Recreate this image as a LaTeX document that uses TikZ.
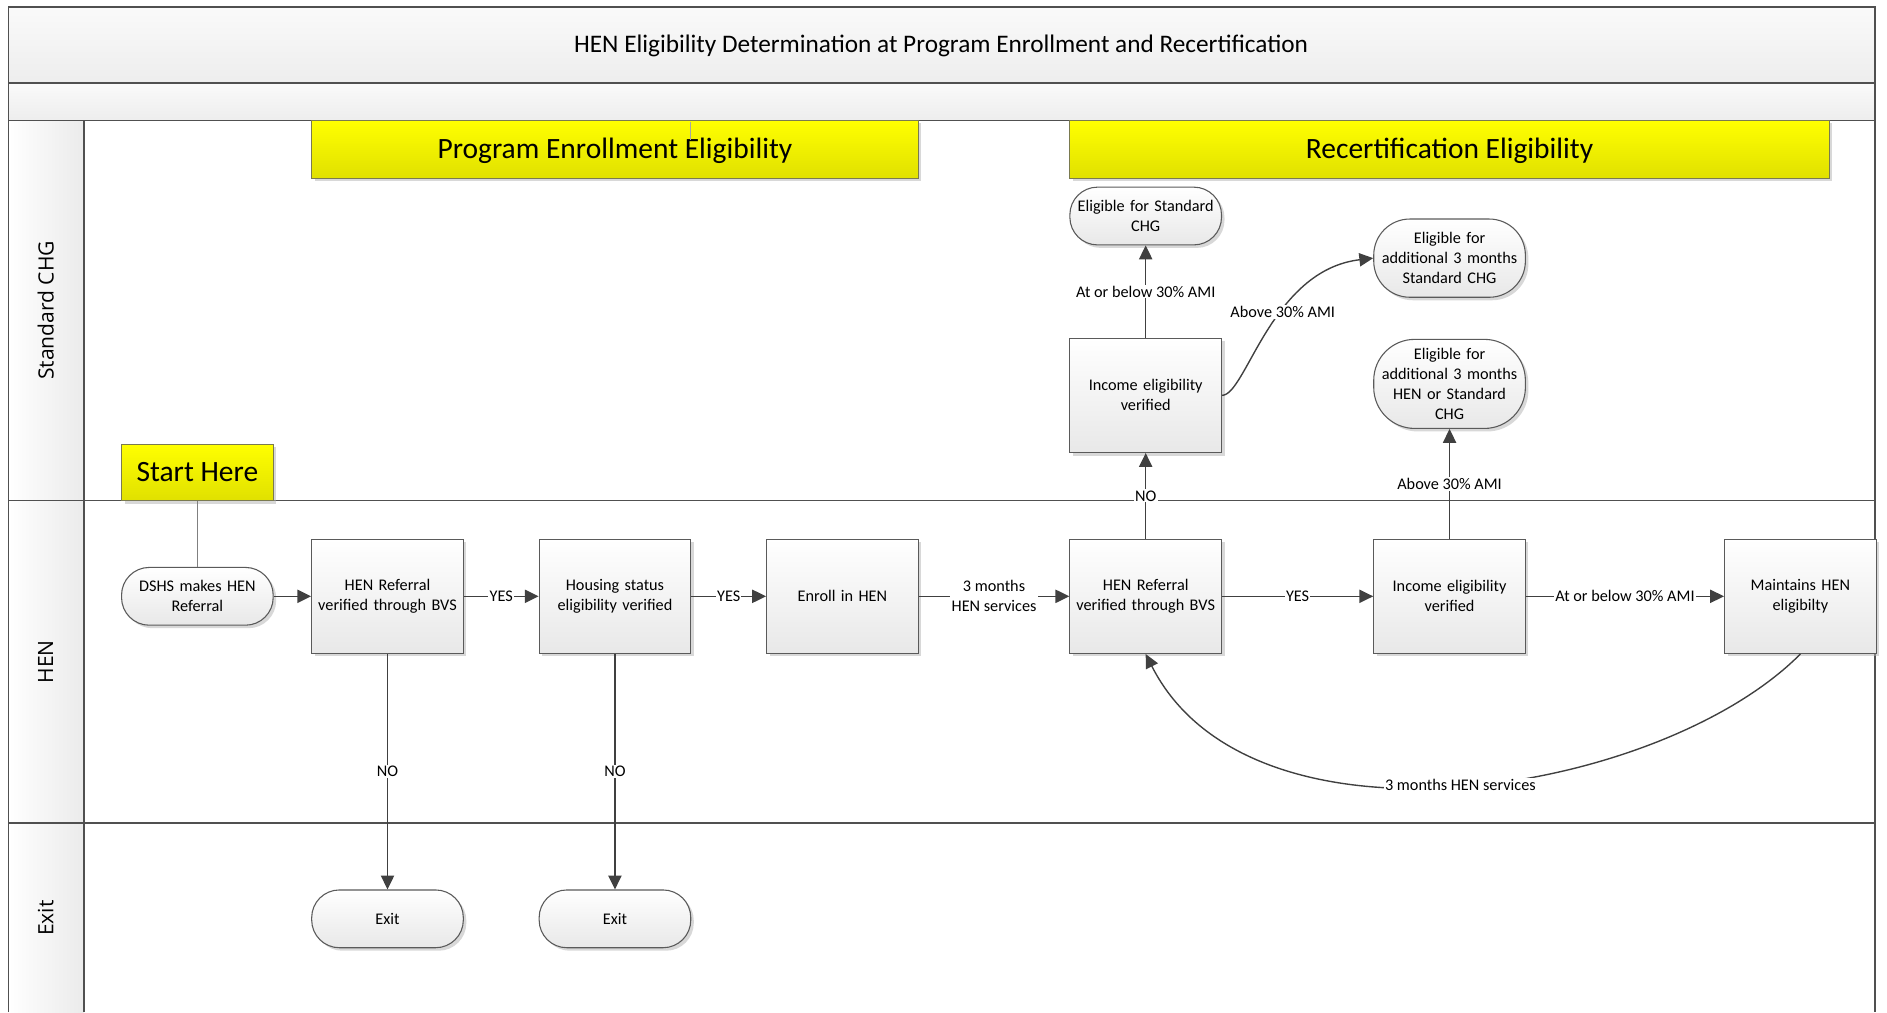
\documentclass[tikz,border=0pt]{standalone}
\usepackage{fontspec}
\setmainfont{Carlito}
\newfontfamily\lanefont{Open Sans}
\usetikzlibrary{arrows.meta,shadows}
\definecolor{lineC}{HTML}{404040}
\definecolor{frameC}{HTML}{505050}
\definecolor{boxC}{HTML}{5A5A5A}
\definecolor{banC}{HTML}{7A7A50}
\tikzset{
  nfont/.style={font=\fontsize{13.5}{16.7}\selectfont},
  shad/.style={drop shadow={shadow xshift=2.5pt,shadow yshift=-2.5pt,fill=black!30,opacity=0.5}},
  proc/.style={nfont,shad,draw=boxC,line width=0.9pt,top color=white,bottom color=black!9,
    minimum width=126pt,minimum height=95pt,text width=122pt,align=center,inner sep=0pt},
  term/.style={proc,rounded corners=23pt,minimum height=48pt},
  banner/.style={shad,draw=banC,line width=0.8pt,top color=yellow,bottom color=yellow!88!black,
    font=\fontsize{24.5}{28}\selectfont,inner sep=0pt},
  conn/.style={draw=lineC,line width=1.15pt,-{Triangle[length=11.5pt,width=11pt]}},
  lbl/.style={nfont,fill=white,inner sep=1pt,text=black,align=center},
  lanelbl/.style={rotate=90,font=\lanefont\fontsize{17.5}{20}\selectfont},
  frm/.style={draw=frameC,line width=1.3pt}
}
\begin{document}
\begin{tikzpicture}[x=1pt,y=-1pt]
\useasboundingbox (0,0) rectangle (1568,841);
% bands
\shade[top color=black!2,bottom color=black!7] (7,6) rectangle (1558,69);
\shade[top color=black!2,bottom color=black!7] (7,69) rectangle (1558,100);
\shade[left color=white,right color=black!8] (7,100) rectangle (70,841);
\draw[frm] (7,841) -- (7,6) -- (1558,6) -- (1558,841);
\draw[frm] (7,69) -- (1558,69);
\draw[frm] (7,100) -- (1558,100);
\draw[frm] (70,100) -- (70,841);
\draw[frm] (7,416) -- (1558,416);
\draw[frm] (7,684) -- (1558,684);
% titles
\node[font=\fontsize{21}{25}\selectfont] (title) at (782,38.5) {HEN Eligibility Determination at Program Enrollment and Recertification};
\node[lanelbl] (lstd) at (38,258) {Standard CHG};
\node[lanelbl] (lhen) at (38,550) {HEN};
\node[lanelbl] (lexit) at (38,763) {Exit};
% banners
\node[banner,minimum width=504pt,minimum height=48pt] (b1) at (511,124) {\raisebox{-8pt}[0pt][0pt]{Program Enrollment Eligibility}};
\draw[black!35,line width=0.6pt] (574,101) -- (574,116);
\node[banner,minimum width=631pt,minimum height=48pt] (b2) at (1204.5,124) {\raisebox{-8pt}[0pt][0pt]{Recertification Eligibility}};
\node[banner,minimum width=126pt,minimum height=47pt] (start) at (164,392.5) {Start Here};
% nodes
\node[term] (dshs) at (164,495.5) {DSHS makes HEN\\Referral};
\node[proc] (hen1) at (322,495.5) {HEN Referral\\verified through BVS};
\node[proc] (house) at (511,495.5) {Housing status\\eligibility verified};
\node[proc] (enroll) at (700,495.5) {Enroll in HEN};
\node[proc] (hen2) at (952,495.5) {HEN Referral\\verified through BVS};
\node[proc] (inc2) at (1204.5,495.5) {Income eligibility\\verified};
\node[proc] (maint) at (1496,495.5) {Maintains HEN\\eligibilty};
\node[proc] (inc1) at (952,328.5) {Income eligibility\\verified};
\node[term] (eligstd) at (952,179.5) {Eligible for Standard\\CHG};
\node[term,minimum height=65pt,rounded corners=30pt] (elig3std) at (1204.5,214.5) {Eligible for\\additional 3 months\\Standard CHG};
\node[term,minimum height=74pt,rounded corners=34pt] (elig3hen) at (1204.5,319) {Eligible for\\additional 3 months\\HEN or Standard\\CHG};
\node[term] (exit1) at (322,763.5) {Exit};
\node[term] (exit2) at (511,763.5) {Exit};
% connectors
\draw[black!50,line width=0.8pt] (start.south) -- (dshs.north);
\draw[conn] (dshs) -- (hen1);
\draw[conn] (hen1) -- node[lbl]{YES} (house);
\draw[conn] (house) -- node[lbl]{YES} (enroll);
\draw[conn] (enroll) -- node[lbl]{3 months\\HEN services} (hen2);
\draw[conn] (hen1) -- node[lbl]{NO} (exit1);
\draw[conn] (house) -- node[lbl]{NO} (exit2);
\draw[conn] (hen2) -- node[lbl]{NO} (inc1);
\draw[conn] (inc1) -- node[lbl]{At or below 30\% AMI} (eligstd);
\draw[conn] (inc1.east) .. controls +(20,0) and +(-85,10) .. node[lbl,pos=0.6]{Above 30\% AMI} (elig3std.west);
\draw[conn] (hen2) -- node[lbl]{YES} (inc2);
\draw[conn] (inc2) -- node[lbl]{At or below 30\% AMI} (maint);
\draw[conn] (inc2) -- node[lbl]{Above 30\% AMI} (elig3hen);
\draw[conn] (maint.south) .. controls +(-116,117) and +(88,174) .. node[lbl,pos=0.5]{3 months HEN services} (hen2.south);
\end{tikzpicture}
\end{document}
